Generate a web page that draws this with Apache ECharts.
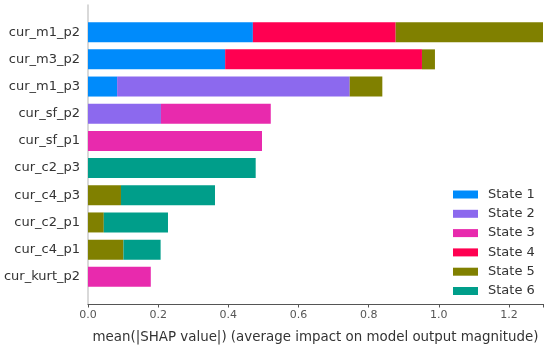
<!DOCTYPE html>
<html>
<head>
<meta charset="utf-8">
<script src="https://cdn.jsdelivr.net/npm/echarts@6/dist/echarts.min.js"></script>
<style>html,body{margin:0;padding:0;background:#fff}#c{width:550px;height:349px}</style>
</head>
<body>
<div id="c"></div>
<script>
const categories = ['cur_m1_p2','cur_m3_p2','cur_m1_p3','cur_sf_p2','cur_sf_p1','cur_c2_p3','cur_c4_p3','cur_c2_p1','cur_c4_p1','cur_kurt_p2'];
const state1 = [0.470, 0.391, 0.083, 0, 0, 0, 0, 0, 0, 0];
const state2 = [0, 0, 0.663, 0.208, 0, 0, 0, 0, 0, 0];
const state3 = [0, 0, 0, 0.313, 0.496, 0, 0, 0, 0, 0.179];
const state4 = [0.407, 0.561, 0, 0, 0, 0, 0, 0, 0, 0];
const state5 = [0.420, 0.037, 0.093, 0, 0, 0, 0.094, 0.045, 0.101, 0];
const state6 = [0, 0, 0, 0, 0, 0.478, 0.268, 0.183, 0.106, 0];
const seriesNames = ['State 1','State 2','State 3','State 4','State 5','State 6'];
const colors = ['#008bfb','#8c69ee','#e82aad','#ff0051','#808000','#009e8a'];
const xTicks = [0, 0.2, 0.4, 0.6, 0.8, 1.0, 1.2];

const pad = arr => [null].concat(arr.map(v => v === 0 ? null : v)).concat([null]);
const yCats = [''].concat(categories).concat(['']);
const all = [state1, state2, state3, state4, state5, state6];

const chart = echarts.init(document.getElementById('c'), null, {renderer: 'canvas'});
chart.setOption({
  animation: false,
  color: colors,
  grid: {left: 88, right: 7, top: 5, bottom: 39, containLabel: false},
  legend: {
    orient: 'vertical', left: 448, top: 183,
    itemWidth: 25, itemHeight: 8, itemGap: 6.3,
    icon: 'rect',
    textStyle: {fontSize: 13, color: '#333', fontFamily: 'DejaVu Sans', padding: [0, 0, 0, 5]},
    data: seriesNames
  },
  xAxis: {
    type: 'value', min: 0, max: 1.297, interval: 0.2,
    name: 'mean(|SHAP value|) (average impact on model output magnitude)',
    nameLocation: 'middle', nameGap: 27,
    nameTextStyle: {fontSize: 13.4, color: '#333', fontFamily: 'DejaVu Sans'},
    axisLine: {show: true, lineStyle: {color: '#555', width: 1}},
    axisTick: {show: true, length: 3.5, lineStyle: {color: '#555'}},
    splitLine: {show: false},
    axisLabel: {
      fontSize: 11, color: '#555', fontFamily: 'DejaVu Sans', margin: 6,
      formatter: v => xTicks.some(t => Math.abs(t - v) < 1e-6) ? v.toFixed(1) : ''
    }
  },
  yAxis: {
    type: 'category', data: yCats, inverse: true, boundaryGap: false,
    axisLine: {show: true, lineStyle: {color: '#ccc', width: 1.5}},
    axisTick: {show: false},
    splitLine: {show: false},
    axisLabel: {interval: 0, fontSize: 13, color: '#333', fontFamily: 'DejaVu Sans', margin: 8}
  },
  series: seriesNames.map((n, i) => ({
    name: n, type: 'bar', stack: 'total', barWidth: 20,
    data: pad(all[i]),
    itemStyle: {color: colors[i]}
  }))
});
</script>
</body>
</html>
